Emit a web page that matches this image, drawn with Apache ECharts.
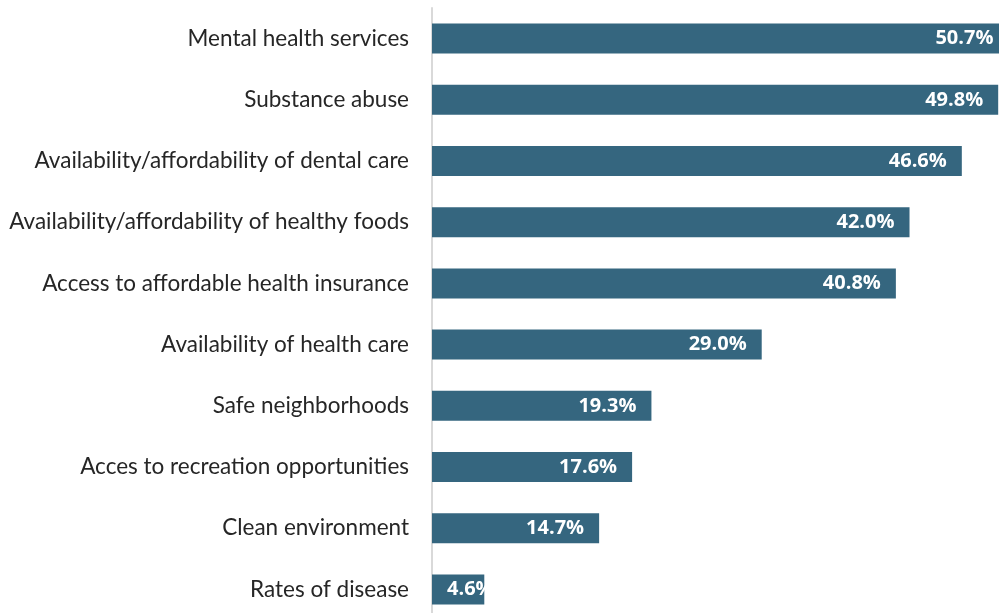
<!DOCTYPE html>
<html><head><meta charset="utf-8">
<script src="https://cdn.jsdelivr.net/npm/echarts@6/dist/echarts.min.js"></script>
<style>html,body{margin:0;padding:0;background:#fff}#c{width:999px;height:613px}</style>
</head><body><div id="c"></div>
<script>
const categories = ["Mental health services","Substance abuse","Availability/affordability of dental care","Availability/affordability of healthy foods","Access to affordable health insurance","Availability of health care","Safe neighborhoods","Acces to recreation opportunities","Clean environment","Rates of disease"];
const values = [50.7,49.8,46.6,42.0,40.8,29.0,19.3,17.6,14.7,4.6];

const chart = echarts.init(document.getElementById('c'));
chart.setOption({
  animation:false,
  grid:{left:432, top:8, right:-10, bottom:-7, containLabel:false, outerBoundsMode:'none'},
  xAxis:{type:'value', min:0, max:50.75, show:false},
  yAxis:{type:'category', data:categories, inverse:true,
    axisLine:{show:true, lineStyle:{color:'#d9d9d9', width:2}},
    axisTick:{show:false},
    axisLabel:{margin:23, color:'#262626', fontSize:22.5, fontFamily:'Lato'}},
  series:[{type:'bar', clip:false, data:values.map((v,i)=>{
      const d={value:v};
      if(v<10){d.label={position:'insideLeft', distance:15};}
      return d;
    }), barWidth:30, itemStyle:{color:'#35667f'},
    label:{show:true, position:'insideRight', distance:15, color:'#fff', fontWeight:'bold', fontSize:20, fontFamily:'Open Sans',
      formatter:p=>p.value.toFixed(1)+'%'}}]
});
</script></body></html>
